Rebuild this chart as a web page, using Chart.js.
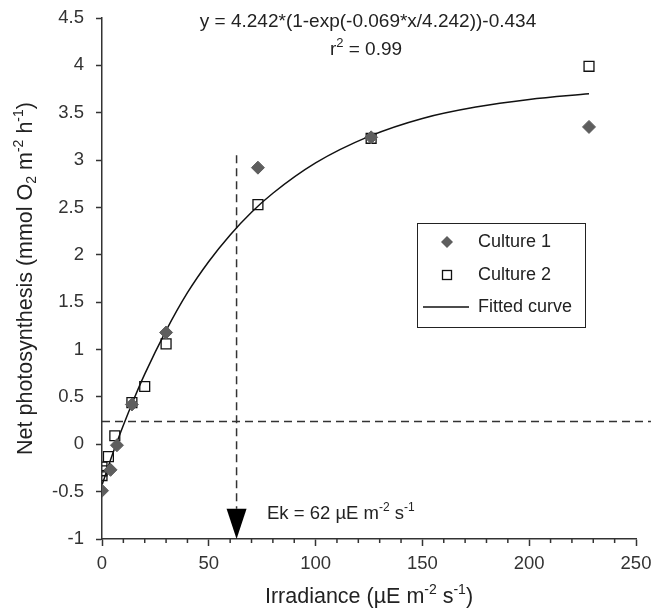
<!DOCTYPE html>
<html>
<head>
<meta charset="utf-8">
<script src="https://cdn.jsdelivr.net/npm/chart.js@4.4.1/dist/chart.umd.min.js"></script>
<style>
  html, body { margin: 0; padding: 0; background: #fff; }
  #chart { display: block; }
</style>
</head>
<body>
<canvas id="chart" width="651" height="609"></canvas>
<script>
/* ---------- DATA ---------- */
const c1X = [0, 4, 7, 14, 30, 73, 126, 228];
const c1Y = [-0.49, -0.27, -0.01, 0.42, 1.18, 2.92, 3.24, 3.35];

const c2X = [0, 0, 0, 3, 6, 14, 20, 30, 73, 126, 228];
const c2Y = [-0.24, -0.28, -0.33, -0.13, 0.09, 0.44, 0.61, 1.06, 2.53, 3.23, 3.99];

const fitX = [0, 5, 10, 15, 20, 30, 40, 50, 60, 70, 80, 100, 125, 150, 175, 200, 228];
const fitY = [-0.43, -0.10, 0.20, 0.48, 0.74, 1.20, 1.60, 1.93, 2.21, 2.45, 2.65, 2.97, 3.25, 3.44, 3.56, 3.64, 3.70];

const xTickVals = [0, 50, 100, 150, 200, 250];
const yTickVals = [-1, -0.5, 0, 0.5, 1, 1.5, 2, 2.5, 3, 3.5, 4, 4.5];

const ekX = 63;          // Ek marker on the irradiance axis
const ekLineTop = 3.05;  // top of the dashed drop line
const ekArrowTop = -0.68;
const compY = 0.24;      // horizontal dashed line
const compXEnd = 257;

const equation = 'y = 4.242*(1-exp(-0.069*x/4.242))-0.434';

const INK = '#333';
const FONT = "'Liberation Sans', Arial, sans-serif";

const toPts = (xs, ys) => xs.map((x, i) => ({ x, y: ys[i] }));

/* ---------- TEXT HELPER (super/subscripts) ---------- */
function richText(ctx, parts, x, y, size, align) {
  const small = Math.round(size * 0.66);
  let total = 0;
  parts.forEach(([t, s]) => {
    ctx.font = `${s ? small : size}px ${FONT}`;
    total += ctx.measureText(t).width;
  });
  let cx = align === 'center' ? x - total / 2 : x;
  ctx.textAlign = 'left';
  ctx.textBaseline = 'middle';
  parts.forEach(([t, s]) => {
    ctx.font = `${s ? small : size}px ${FONT}`;
    const dy = s > 0 ? -size * 0.32 : s < 0 ? size * 0.3 : 0;
    ctx.fillText(t, cx, y + dy);
    cx += ctx.measureText(t).width;
  });
}

/* ---------- OVERLAY PLUGIN ---------- */
const overlay = {
  id: 'overlay',
  beforeDatasetsDraw(chart) {
    const { ctx, scales: { x, y } } = chart;
    ctx.save();
    ctx.strokeStyle = INK;
    ctx.lineWidth = 1.5;
    ctx.setLineDash([8, 5]);
    // horizontal dashed line
    ctx.beginPath();
    ctx.moveTo(x.getPixelForValue(0), y.getPixelForValue(compY));
    ctx.lineTo(x.getPixelForValue(compXEnd), y.getPixelForValue(compY));
    ctx.stroke();
    // vertical Ek line
    ctx.beginPath();
    ctx.moveTo(x.getPixelForValue(ekX), y.getPixelForValue(ekLineTop));
    ctx.lineTo(x.getPixelForValue(ekX), y.getPixelForValue(ekArrowTop));
    ctx.stroke();
    ctx.setLineDash([]);
    // arrow head
    const ax = x.getPixelForValue(ekX);
    const top = y.getPixelForValue(ekArrowTop);
    const tip = y.getPixelForValue(-1);
    ctx.fillStyle = '#000';
    ctx.beginPath();
    ctx.moveTo(ax - 10, top);
    ctx.lineTo(ax + 10, top);
    ctx.lineTo(ax, tip);
    ctx.closePath();
    ctx.fill();
    ctx.restore();
  },
  afterDraw(chart) {
    const { ctx, scales: { x, y }, chartArea } = chart;
    ctx.save();
    // minor ticks on the irradiance axis
    ctx.strokeStyle = INK;
    ctx.lineWidth = 1.5;
    for (let i = 0; i < xTickVals.length - 1; i++) {
      const step = (xTickVals[i + 1] - xTickVals[i]) / 5;
      for (let k = 1; k < 5; k++) {
        const px = x.getPixelForValue(xTickVals[i] + k * step);
        ctx.beginPath();
        ctx.moveTo(px, chartArea.bottom);
        ctx.lineTo(px, chartArea.bottom + 4);
        ctx.stroke();
      }
    }

    ctx.fillStyle = '#222';
    // equation + r2
    ctx.font = `19px ${FONT}`;
    ctx.textAlign = 'center';
    ctx.textBaseline = 'middle';
    ctx.fillText(equation, 368, 22);
    richText(ctx, [['r', 0], ['2', 1], [' = 0.99', 0]], 366, 50, 19, 'center');

    // Ek label
    richText(ctx, [['Ek = 62 \u00b5E m', 0], ['-2', 1], [' s', 0], ['-1', 1]], 267, 514, 18.5, 'left');

    // axis titles
    const cx = (chartArea.left + chartArea.right) / 2;
    richText(ctx, [['Irradiance (\u00b5E m', 0], ['-2', 1], [' s', 0], ['-1', 1], [')', 0]], cx, 597, 21.5, 'center');
    ctx.save();
    ctx.translate(26, (chartArea.top + chartArea.bottom) / 2);
    ctx.rotate(-Math.PI / 2);
    richText(ctx, [['Net photosynthesis (mmol O', 0], ['2', -1], [' m', 0], ['-2', 1], [' h', 0], ['-1', 1], [')', 0]], 0, 0, 21.5, 'center');
    ctx.restore();

    // legend
    const lx = 417, ly = 223, lw = 168, lh = 104;
    ctx.fillStyle = '#fff';
    ctx.fillRect(lx, ly, lw, lh);
    ctx.strokeStyle = '#222';
    ctx.lineWidth = 1;
    ctx.strokeRect(lx + 0.5, ly + 0.5, lw, lh);
    const rows = [242, 275, 307];
    const mx = 447;
    // diamond
    ctx.fillStyle = '#5e5e5e';
    ctx.beginPath();
    ctx.moveTo(mx, rows[0] - 6); ctx.lineTo(mx + 6, rows[0]);
    ctx.lineTo(mx, rows[0] + 6); ctx.lineTo(mx - 6, rows[0]);
    ctx.closePath(); ctx.fill();
    // square
    ctx.strokeStyle = '#111';
    ctx.lineWidth = 1.3;
    ctx.strokeRect(mx - 4.5, rows[1] - 4.5, 9, 9);
    // line
    ctx.lineWidth = 1.5;
    ctx.beginPath();
    ctx.moveTo(423, rows[2]); ctx.lineTo(469, rows[2]);
    ctx.stroke();
    ctx.fillStyle = '#222';
    ctx.font = `18px ${FONT}`;
    ctx.textAlign = 'left';
    ctx.textBaseline = 'middle';
    chart.data.datasets.slice().sort((a, b) => a.order - b.order).forEach((ds, i) => {
      ctx.fillText(ds.label, 478, rows[i]);
    });
    ctx.restore();
  }
};

/* ---------- CHART ---------- */
Chart.defaults.font.family = FONT;
Chart.defaults.color = INK;

new Chart(document.getElementById('chart'), {
  type: 'scatter',
  data: {
    datasets: [
      {
        label: 'Culture 1',
        data: toPts(c1X, c1Y),
        pointStyle: 'rectRot',
        pointRadius: 6.5,
        pointBackgroundColor: '#5e5e5e',
        pointBorderColor: '#5e5e5e',
        pointBorderWidth: 1,
        order: 1
      },
      {
        label: 'Culture 2',
        data: toPts(c2X, c2Y),
        pointStyle: 'rect',
        pointRadius: 7,
        pointBackgroundColor: 'rgba(255,255,255,0)',
        pointBorderColor: '#111',
        pointBorderWidth: 1.3,
        order: 2
      },
      {
        label: 'Fitted curve',
        data: toPts(fitX, fitY),
        showLine: true,
        borderColor: '#111',
        borderWidth: 1.5,
        pointRadius: 0,
        cubicInterpolationMode: 'monotone',
        order: 3
      }
    ]
  },
  options: {
    responsive: false,
    animation: false,
    devicePixelRatio: 1,
    layout: { padding: { top: 18, right: 15, left: 0, bottom: 0 } },
    plugins: { legend: { display: false }, tooltip: { enabled: false } },
    scales: {
      x: {
        type: 'linear',
        min: 0,
        max: 250,
        afterBuildTicks: s => { s.ticks = xTickVals.map(v => ({ value: v })); },
        afterFit: s => { s.height = 70; s.paddingLeft = 0; s.paddingRight = 0; },
        grid: { drawOnChartArea: false, drawTicks: true, tickLength: 7, tickColor: INK, tickWidth: 1.5 },
        border: { display: true, color: INK, width: 1.5 },
        ticks: { color: INK, font: { size: 18.5 }, padding: 7, maxRotation: 0, autoSkip: false, callback: v => String(v) }
      },
      y: {
        type: 'linear',
        min: -1,
        max: 4.5,
        afterBuildTicks: s => { s.ticks = yTickVals.map(v => ({ value: v })); },
        afterFit: s => { s.width = 102; s.paddingTop = 0; s.paddingBottom = 0; },
        grid: { drawOnChartArea: false, drawTicks: true, tickLength: 6, tickColor: INK, tickWidth: 1.5 },
        border: { display: true, color: INK, width: 1.5 },
        ticks: { color: INK, font: { size: 18.5 }, padding: 12, autoSkip: false, callback: v => String(v) }
      }
    }
  },
  plugins: [overlay]
});
</script>
</body>
</html>
